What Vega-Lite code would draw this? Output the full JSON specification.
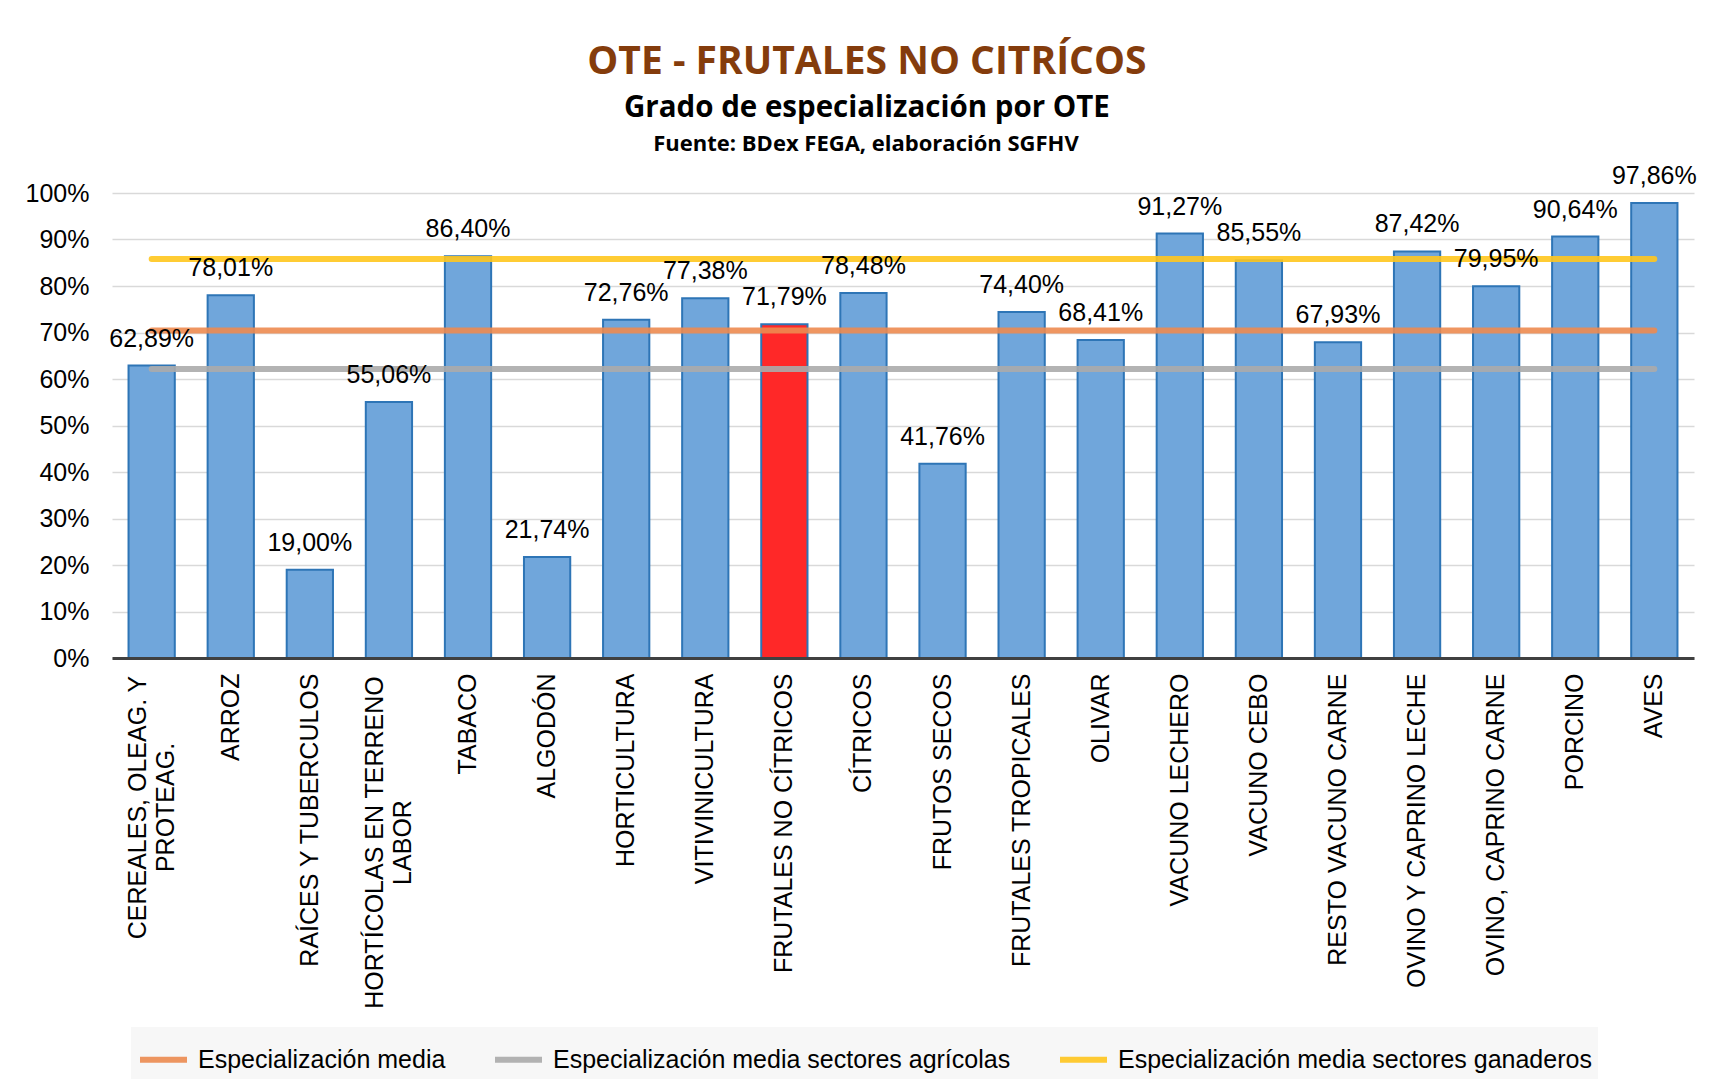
{
  "$schema": "https://vega.github.io/schema/vega-lite/v6.json",
  "background": "white",
  "padding": {"left": 25, "top": 43, "right": 10, "bottom": 0},
  "title": {
    "text": "OTE - FRUTALES NO CITRÍCOS",
    "subtitle": "Grado de especialización por OTE",
    "anchor": "middle",
    "dx": 6,
    "font": "Open Sans",
    "fontSize": 39,
    "fontWeight": "bold",
    "color": "#843C0C",
    "subtitleFont": "Open Sans",
    "subtitleFontSize": 29.5,
    "subtitleFontWeight": "bold",
    "subtitleColor": "#000000",
    "subtitlePadding": 12,
    "offset": 10
  },
  "datasets": {
    "ote": [
      {"ote": "CEREALES, OLEAG. Y PROTEAG.", "valor": 0.6289},
      {"ote": "ARROZ", "valor": 0.7801},
      {"ote": "RAÍCES Y TUBERCULOS", "valor": 0.19},
      {"ote": "HORTÍCOLAS EN TERRENO LABOR", "valor": 0.5506},
      {"ote": "TABACO", "valor": 0.864},
      {"ote": "ALGODÓN", "valor": 0.2174},
      {"ote": "HORTICULTURA", "valor": 0.7276},
      {"ote": "VITIVINICULTURA", "valor": 0.7738},
      {"ote": "FRUTALES NO CÍTRICOS", "valor": 0.7179},
      {"ote": "CÍTRICOS", "valor": 0.7848},
      {"ote": "FRUTOS SECOS", "valor": 0.4176},
      {"ote": "FRUTALES TROPICALES", "valor": 0.744},
      {"ote": "OLIVAR", "valor": 0.6841},
      {"ote": "VACUNO LECHERO", "valor": 0.9127},
      {"ote": "VACUNO CEBO", "valor": 0.8555},
      {"ote": "RESTO VACUNO CARNE", "valor": 0.6793},
      {"ote": "OVINO Y CAPRINO LECHE", "valor": 0.8742},
      {"ote": "OVINO, CAPRINO CARNE", "valor": 0.7995},
      {"ote": "PORCINO", "valor": 0.9064},
      {"ote": "AVES", "valor": 0.9786}
    ],
    "medias": [
      {"serie": "Especialización media", "nivel": 0.7044, "inicio": "CEREALES, OLEAG. Y PROTEAG.", "fin": "AVES"},
      {"serie": "Especialización media sectores agrícolas", "nivel": 0.6216, "inicio": "CEREALES, OLEAG. Y PROTEAG.", "fin": "AVES"},
      {"serie": "Especialización media sectores ganaderos", "nivel": 0.858, "inicio": "CEREALES, OLEAG. Y PROTEAG.", "fin": "AVES"}
    ]
  },
  "vconcat": [
    {
      "width": 1582,
      "height": 465,
      "title": {
        "text": "Fuente: BDex FEGA, elaboración SGFHV",
        "font": "Open Sans",
        "fontSize": 22,
        "fontWeight": "bold",
        "color": "#000000",
        "anchor": "middle",
        "dx": -37,
        "offset": 8
      },
      "layer": [
        {
          "data": {"name": "ote"},
          "mark": {"type": "bar", "stroke": "#2E75B6", "strokeWidth": 2},
          "encoding": {
            "x": {
              "field": "ote",
              "type": "nominal",
              "sort": null,
              "scale": {
                "domain": ["CEREALES, OLEAG. Y PROTEAG.", "ARROZ", "RAÍCES Y TUBERCULOS", "HORTÍCOLAS EN TERRENO LABOR", "TABACO", "ALGODÓN", "HORTICULTURA", "VITIVINICULTURA", "FRUTALES NO CÍTRICOS", "CÍTRICOS", "FRUTOS SECOS", "FRUTALES TROPICALES", "OLIVAR", "VACUNO LECHERO", "VACUNO CEBO", "RESTO VACUNO CARNE", "OVINO Y CAPRINO LECHE", "OVINO, CAPRINO CARNE", "PORCINO", "AVES"],
                "paddingInner": 0.415,
                "paddingOuter": 0.209
              },
              "axis": {
                "title": null,
                "labelAngle": -90,
                "labelFontSize": 25,
                "labelColor": "#000000",
                "labelPadding": {
                  "condition": [
                    {"test": "datum.value === 'CEREALES, OLEAG. Y PROTEAG.'", "value": 149},
                    {"test": "datum.value === 'HORTÍCOLAS EN TERRENO LABOR'", "value": 184}
                  ],
                  "value": 15
                },
                "labelAlign": {
                  "condition": {"test": "datum.value === 'CEREALES, OLEAG. Y PROTEAG.' || datum.value === 'HORTÍCOLAS EN TERRENO LABOR'", "value": "center"},
                  "value": "right"
                },
                "labelOffset": {
                  "condition": {"test": "datum.value === 'CEREALES, OLEAG. Y PROTEAG.' || datum.value === 'HORTÍCOLAS EN TERRENO LABOR'", "value": -14},
                  "value": 0
                },
                "ticks": false,
                "domainColor": "#404040",
                "domainWidth": 3,
                "labelLimit": 0,
                "labelLineHeight": 28,
                "zindex": 1,
                "labelExpr": "datum.label == 'CEREALES, OLEAG. Y PROTEAG.' ? ['CEREALES, OLEAG. Y', 'PROTEAG.'] : datum.label == 'HORTÍCOLAS EN TERRENO LABOR' ? ['HORTÍCOLAS EN TERRENO', 'LABOR'] : datum.label"
              }
            },
            "y": {
              "field": "valor",
              "type": "quantitative",
              "scale": {"domain": [0, 1]},
              "axis": {
                "title": null,
                "format": ".0%",
                "values": [0, 0.1, 0.2, 0.3, 0.4, 0.5, 0.6, 0.7, 0.8, 0.9, 1],
                "labelFontSize": 25,
                "labelColor": "#000000",
                "labelPadding": 23,
                "ticks": false,
                "domain": false,
                "gridColor": "#D9D9D9",
                "gridWidth": 1.5
              }
            },
            "fill": {
              "condition": {"test": "datum.ote === 'FRUTALES NO CÍTRICOS'", "value": "#FF2828"},
              "value": "#70A6DB"
            }
          }
        },
        {
          "data": {"name": "medias"},
          "mark": {"type": "rule", "strokeWidth": 6, "strokeCap": "round", "opacity": 0.9},
          "encoding": {
            "x": {"field": "inicio", "type": "nominal"},
            "x2": {"field": "fin"},
            "y": {"field": "nivel", "type": "quantitative"},
            "color": {
              "field": "serie",
              "type": "nominal",
              "scale": {
                "domain": ["Especialización media", "Especialización media sectores agrícolas", "Especialización media sectores ganaderos"],
                "range": ["#ED8B50", "#ABABAB", "#FFC61E"]
              },
              "legend": {
                "orient": "none",
                "legendX": 19,
                "legendY": 834,
                "direction": "horizontal",
                "title": null,
                "symbolType": "stroke",
                "symbolSize": 2209,
                "symbolStrokeWidth": 6,
                "labelFontSize": 25,
                "labelColor": "#000000",
                "labelOffset": 8,
                "columnPadding": 37,
                "fillColor": "#F7F7F7",
                "padding": 6,
                "labelLimit": 0
              }
            }
          }
        },
        {
          "data": {"name": "ote"},
          "mark": {"type": "text", "dy": -27, "fontSize": 25, "color": "#000000", "baseline": "middle"},
          "encoding": {
            "x": {"field": "ote", "type": "nominal"},
            "y": {"field": "valor", "type": "quantitative"},
            "text": {"field": "valor", "type": "quantitative", "format": ".2%"}
          }
        }
      ]
    }
  ],
  "config": {
    "locale": {"number": {"decimal": ",", "thousands": ".", "grouping": [3], "currency": ["", " €"]}},
    "font": "Liberation Sans",
    "view": {"stroke": null}
  }
}
